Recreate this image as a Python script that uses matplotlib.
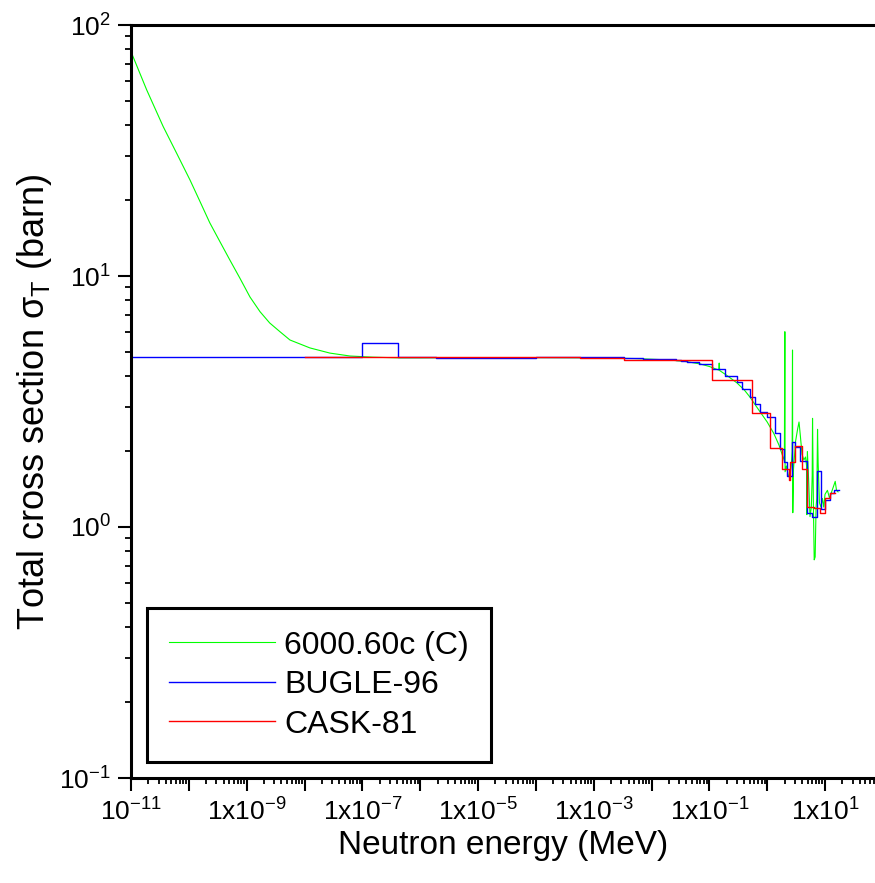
import math
import matplotlib
matplotlib.use("Agg")
import matplotlib.pyplot as plt
from matplotlib.ticker import LogLocator, FuncFormatter, NullFormatter

plt.rcParams["font.family"] = ["Liberation Sans", "DejaVu Sans"]
plt.rcParams["mathtext.fontset"] = "custom"
plt.rcParams["mathtext.rm"] = "Liberation Sans"
plt.rcParams["mathtext.it"] = "Liberation Sans:italic"

# 6000.60c (C) pointwise data, energy in MeV, sigma in barn
c_energy = [1e-11, 1.87e-11, 3.6e-11, 6.17e-11, 1.05e-10, 1.56e-10, 2.3e-10, 3.45e-10,
            5.1e-10, 7.66e-10, 1.14e-9, 1.7e-9, 2.5e-9, 3.76e-9, 5.6e-9,
            1.24e-8, 2.75e-8, 6.1e-8, 1.5e-7, 4e-7, 1e-6, 1e-5, 1e-4, 1e-3, 5e-3,
            0.01, 0.02, 0.04, 0.07, 0.1, 0.13, 0.145, 0.148, 0.151, 0.2, 0.3, 0.4,
            0.5, 0.65, 0.8, 1.0, 1.3, 1.6, 1.85, 1.98, 2.02, 2.04, 2.15, 2.3, 2.45,
            2.6, 2.7, 2.74, 2.77, 2.85, 3.1, 3.35, 3.55, 3.75, 4.0, 4.3, 4.6, 4.8,
            4.85, 4.95, 5.2, 5.5, 5.8, 6.0, 6.08, 6.3, 6.5, 6.75, 7.0, 7.2, 7.42,
            7.6, 8.0, 8.5, 9.0, 9.5, 10.0, 11.0, 12.0, 13.0, 14.0, 15.0, 15.8, 16.8]
c_sigma = [78.3, 55.1, 39.4, 30.8, 24.1, 19.8, 16.3, 13.7,
           11.6, 9.79, 8.25, 7.21, 6.5, 6.0, 5.56,
           5.17, 4.93, 4.8, 4.75, 4.72, 4.72, 4.73, 4.73, 4.72, 4.69,
           4.66, 4.63, 4.56, 4.46, 4.36, 4.26, 4.22, 4.5, 4.2, 4.02, 3.75, 3.52,
           3.3, 3.02, 2.82, 2.62, 2.36, 2.12, 1.92, 1.84, 6.0, 1.66, 1.75, 1.62, 1.57,
           1.75, 2.0, 5.07, 1.14, 1.7, 2.2, 2.45, 2.62, 2.3, 1.95, 1.85, 1.9, 1.75,
           1.12, 2.0, 1.55, 1.1, 1.2, 1.6, 2.71, 1.2, 0.74, 0.76, 1.2, 1.3, 2.45,
           1.8, 1.25, 1.2, 1.3, 1.2, 1.35, 1.4, 1.3, 1.38, 1.45, 1.52, 1.4, 1.38]

# BUGLE-96 group structure (MeV) and group cross sections (barn)
bugle_edges = [1e-11, 1e-7, 4.1399e-7, 8.7642e-7, 1.8554e-6, 5.0435e-6, 1.0677e-5,
               3.7267e-5, 1.013e-4, 2.1445e-4, 4.54e-4, 1.5846e-3, 3.3546e-3,
               7.1017e-3, 0.015034, 0.021875, 0.024176, 0.026058, 0.031828,
               0.040868, 0.067379, 0.11109, 0.18316, 0.29721, 0.36883, 0.49787,
               0.6081, 0.74274, 0.82085, 1.0026, 1.3534, 1.653, 1.9205, 2.2313,
               2.3069, 2.3457, 2.3653, 2.466, 2.7253, 3.0119, 3.6788, 4.9659,
               6.0653, 7.4082, 8.6071, 10.0, 12.214, 14.191, 17.332]
bugle_sigma = [4.74, 5.39, 4.77, 4.75, 4.72, 4.72, 4.73, 4.73, 4.74, 4.74, 4.74, 4.74,
               4.70, 4.67, 4.67, 4.66, 4.66, 4.61, 4.60, 4.54, 4.47, 4.27, 4.00,
               3.79, 3.54, 3.29, 3.08, 2.88, 2.88, 2.74, 2.36, 2.05, 1.81, 1.59,
               1.59, 1.59, 1.59, 1.59, 2.19, 2.09, 1.84, 1.14, 1.10, 1.67, 1.18,
               1.28, 1.36, 1.40]

# CASK-81 group structure (MeV) and group cross sections (barn)
cask_edges = [1e-8, 5.83e-4, 3.35e-3, 0.1111, 0.5502, 1.108, 1.827, 2.35, 2.466,
              3.012, 4.066, 4.966, 6.36, 8.187, 10.0, 12.214, 14.918]
cask_sigma = [4.77, 4.70, 4.61, 3.85, 2.84, 2.06, 1.70, 1.54, 1.81, 2.11, 1.70,
              1.20, 1.19, 1.14, 1.30, 1.37]

labels = ["6000.60c (C)", "BUGLE-96", "CASK-81"]
colors = ["#00ff00", "#0000ff", "#ff0000"]

fig = plt.figure(figsize=(8.75, 8.83), dpi=100)
ax = fig.add_axes([131 / 875, 1 - 778 / 883, 1 - 131 / 875, 753 / 883])

ax.plot(c_energy, c_sigma, color=colors[0], lw=0.8, label=labels[0])
ax.step(bugle_edges, bugle_sigma + bugle_sigma[-1:], where="post",
        color=colors[1], lw=1.0, label=labels[1])
ax.step(cask_edges, cask_sigma + cask_sigma[-1:], where="post",
        color=colors[2], lw=1.0, label=labels[2])

ax.set_xscale("log")
ax.set_yscale("log")
ax.set_xlim(1e-11, 10 ** 1.864)
ax.set_ylim(0.1, 100)


def xfmt(v, pos):
    e = int(round(math.log10(v)))
    if e % 2 == 0:
        return ""
    if e == -11:
        return r"$\mathregular{10^{%d}}$" % e
    return r"$\mathregular{1x10^{%d}}$" % e


def yfmt(v, pos):
    e = int(round(math.log10(v)))
    return r"$\mathregular{10^{%d}}$" % e


ax.xaxis.set_major_locator(LogLocator(base=10, numticks=30))
ax.xaxis.set_minor_locator(LogLocator(base=10, subs=range(2, 10), numticks=30))
ax.xaxis.set_major_formatter(FuncFormatter(xfmt))
ax.xaxis.set_minor_formatter(NullFormatter())
ax.yaxis.set_major_locator(LogLocator(base=10, numticks=10))
ax.yaxis.set_minor_locator(LogLocator(base=10, subs=range(2, 10), numticks=10))
ax.yaxis.set_major_formatter(FuncFormatter(yfmt))
ax.yaxis.set_minor_formatter(NullFormatter())

ax.tick_params(which="major", direction="out", length=9.5, width=1.5,
               labelsize=19, pad=5)
ax.tick_params(which="minor", direction="out", length=4.5, width=1.3)

for s in ["left", "bottom", "top"]:
    ax.spines[s].set_linewidth(2.2)
ax.spines["right"].set_visible(False)

ax.set_xlabel("Neutron energy (MeV)", fontsize=24, labelpad=3)
ax.set_ylabel(r"Total cross section σ$_\mathregular{T}$ (barn)", fontsize=26, labelpad=4)

leg = ax.legend(loc="lower left", bbox_to_anchor=(0.0215, 0.0212), borderaxespad=0,
                fontsize=23, frameon=True, fancybox=False, edgecolor="black",
                framealpha=1, borderpad=0.7, handlelength=3.3, handletextpad=0.3,
                labelspacing=0.3)
leg.get_frame().set_linewidth(2.2)

fig.savefig("out.png", dpi=100)
